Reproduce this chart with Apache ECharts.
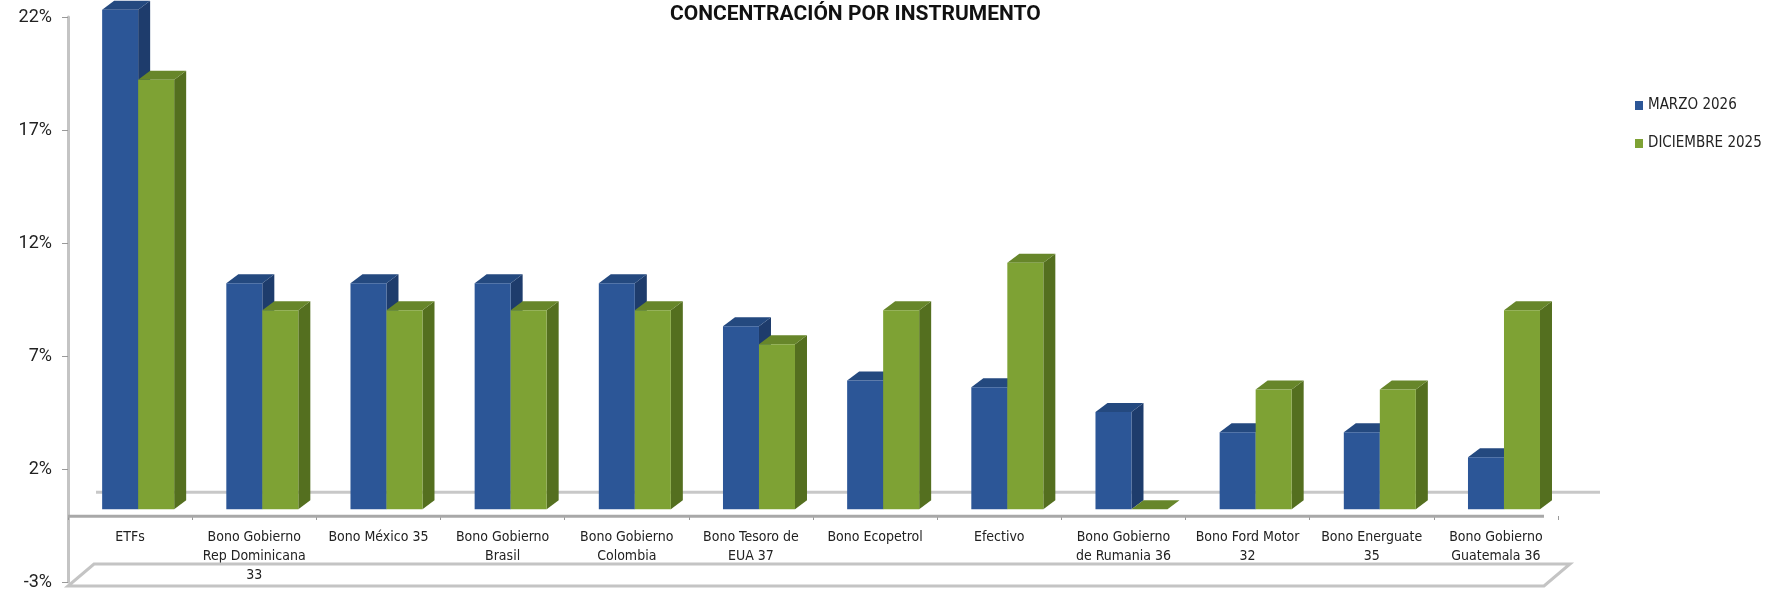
<!DOCTYPE html>
<html>
<head>
<meta charset="utf-8">
<script src="https://cdn.jsdelivr.net/npm/echarts@6/dist/echarts.min.js"></script>
<style>
html,body{margin:0;padding:0;background:#fff;}
#chart{width:1782px;height:594px;}
</style>
</head>
<body>
<div id="chart"></div>
<script>
const categories = ['ETFs','Bono Gobierno Rep Dominicana 33','Bono México 35','Bono Gobierno Brasil','Bono Gobierno Colombia','Bono Tesoro de EUA 37','Bono Ecopetrol','Efectivo','Bono Gobierno de Rumania 36','Bono Ford Motor 32','Bono Energuate 35','Bono Gobierno Guatemala 36'];
const tickLabels = ['ETFs','Bono Gobierno\nRep Dominicana\n33','Bono México 35','Bono Gobierno\nBrasil','Bono Gobierno\nColombia','Bono Tesoro de\nEUA 37','Bono Ecopetrol','Efectivo','Bono Gobierno\nde Rumania 36','Bono Ford Motor\n32','Bono Energuate\n35','Bono Gobierno\nGuatemala 36'];
const marzo2026 = [22.1, 10.0, 10.0, 10.0, 10.0, 8.1, 5.7, 5.4, 4.3, 3.4, 3.4, 2.3];
const diciembre2025 = [19.0, 8.8, 8.8, 8.8, 8.8, 7.3, 8.8, 10.9, 0, 5.3, 5.3, 8.8];
const seriesNames = ['MARZO 2026', 'DICIEMBRE 2025'];
const yTicks = [-3, 2, 7, 12, 17, 22];

const palette = [
  {front:'#2C5697', side:'#1E3C6C', top:'#24497F'},
  {front:'#7EA234', side:'#546F1F', top:'#67862A'}
];
const DX = 12, DY = -9, LIFT = 5;
const GRID = {left:68, right:224, top:17, bottom:12};
const AXIS_SHIFT = 66; // distance from -3% floor to the 0% category axis

function barRender(idx){
  return function(params, api){
    const ci = api.value(0), v = api.value(1);
    const base = api.coord([ci, 0]);
    const top = api.coord([ci, v]);
    const band = api.size([1, 0])[0];
    const bw = band * 0.29;
    const x0 = base[0] + band * 0.065 - bw + idx * bw;
    const x1 = x0 + bw;
    const yb = base[1] - LIFT, yt = top[1] - LIFT;
    const c = palette[idx];
    return {type:'group', children:[
      {type:'polygon', shape:{points:[[x1,yt],[x1,yb],[x1+DX,yb+DY],[x1+DX,yt+DY]]}, style:{fill:c.side}},
      {type:'polygon', shape:{points:[[x0,yt],[x1,yt],[x1+DX,yt+DY],[x0+DX,yt+DY]]}, style:{fill:c.top}},
      {type:'rect', shape:{x:x0, y:yt, width:bw, height:Math.max(yb-yt,0)}, style:{fill:c.front}}
    ]};
  };
}

function floorRender(params, api){
  const cs = params.coordSys;
  const yMin = api.coord([0, yTicks[0]])[1];
  const y0 = api.coord([0, 0])[1];
  const L = cs.x, R = cs.x + cs.width - 14;
  const FX = 26, FY = -22;
  return {type:'group', children:[
    {type:'polygon', shape:{points:[[L,yMin+4],[R,yMin+4],[R+FX,yMin+4+FY],[L+FX,yMin+4+FY]]},
      style:{fill:'none', stroke:'#c4c4c4', lineWidth:3}},
    {type:'line', shape:{x1:L+FX+2, y1:y0+FY, x2:R+FX+30, y2:y0+FY}, style:{stroke:'#c8c8c8', lineWidth:3}},
    {type:'line', shape:{x1:L, y1:y0+2, x2:R, y2:y0+2}, style:{stroke:'#a8a8a8', lineWidth:3}}
  ]};
}

const chart = echarts.init(document.getElementById('chart'));
chart.setOption({
  backgroundColor:'#fff',
  animation:false,
  title:{text:'CONCENTRACIÓN POR INSTRUMENTO', left:665, top:-1,
    textStyle:{fontFamily:'Roboto', fontWeight:'bold', fontSize:21, color:'#111'}},
  legend:{orient:'vertical', left:1630, top:93, itemWidth:8, itemHeight:9, itemGap:23, icon:'rect',
    data:seriesNames,
    textStyle:{fontFamily:'"Liberation Sans Narrow","DejaVu Sans Condensed",sans-serif', fontSize:15, color:'#222'}},
  grid:{left:GRID.left, right:GRID.right, top:GRID.top, bottom:GRID.bottom, containLabel:false, outerBoundsMode:'none'},
  xAxis:{type:'category', data:categories, offset:-AXIS_SHIFT,
    axisLine:{show:false, onZero:false},
    axisTick:{show:true, length:4, inside:false, lineStyle:{color:'#999', width:1}},
    axisLabel:{interval:0, margin:12, lineHeight:19, color:'#222', fontSize:14,
      fontFamily:'"Liberation Sans Narrow","DejaVu Sans Condensed",sans-serif',
      formatter:function(v, i){ return tickLabels[i]; }}},
  yAxis:{type:'value', min:-3, max:22, interval:5,
    axisLine:{show:true, lineStyle:{color:'#c4c4c4', width:3}},
    axisTick:{show:true, length:6, lineStyle:{color:'#999'}},
    splitLine:{show:false},
    axisLabel:{margin:16, color:'#222', fontSize:18, fontFamily:'Roboto', formatter:function(v){return v + '%';}}},
  series:[
    {type:'custom', name:'floor', renderItem:floorRender, data:[[0,0]], silent:true, z:1},
    {type:'custom', name:seriesNames[0], renderItem:barRender(0), itemStyle:{color:palette[0].front},
      data:marzo2026.map(function(v,i){return [i,v];}), z:3},
    {type:'custom', name:seriesNames[1], renderItem:barRender(1), itemStyle:{color:palette[1].front},
      data:diciembre2025.map(function(v,i){return [i,v];}), z:4}
  ]
});
</script>
</body>
</html>
